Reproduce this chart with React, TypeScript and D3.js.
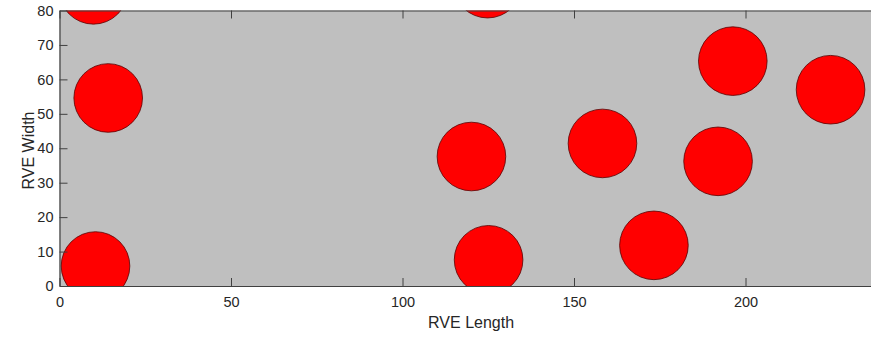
import React, { useEffect, useRef } from 'react';
import * as d3 from 'd3';

// fibre centres (RVE units)
const centerX = [9.9, 14.2, 10.5, 124.8, 120.1, 125.1, 158.3, 173.3, 192.0, 196.3, 224.8];
const centerY = [86.0, 54.6, 5.8, 87.8, 37.6, 7.6, 41.4, 11.8, 36.2, 65.3, 57.0];
const radius = [10, 10, 10, 10, 10, 10, 10, 10, 10, 10, 10];

const xTicks = [0, 50, 100, 150, 200];
const yTicks = [0, 10, 20, 30, 40, 50, 60, 70, 80];

const xLabel = 'RVE Length';
const yLabel = 'RVE Width';

const App: React.FC = () => {
  const width = 871;
  const height = 337;
  const margin = { top: 10.5, left: 59.5, bottom: 51 };
  const innerH = height - margin.top - margin.bottom;
  const innerW = 240 * 3.43;

  const svgRef = useRef<SVGSVGElement>(null);

  useEffect(() => {
    const svg = d3.select(svgRef.current);
    svg.selectAll('*').remove();

    const x = d3.scaleLinear().domain([0, 240]).range([0, innerW]);
    const y = d3.scaleLinear().domain([0, 80]).range([innerH, 0]);

    const g = svg.append('g').attr('transform', `translate(${margin.left},${margin.top})`);

    svg.append('defs')
      .append('clipPath')
      .attr('id', 'plot-clip')
      .append('rect')
      .attr('width', innerW)
      .attr('height', innerH);

    g.append('rect')
      .attr('width', innerW)
      .attr('height', innerH)
      .attr('fill', '#bfbfbf');

    const data = centerX.map((cx, i) => ({ cx, cy: centerY[i], r: radius[i] }));

    g.append('g')
      .attr('clip-path', 'url(#plot-clip)')
      .selectAll('circle')
      .data(data)
      .join('circle')
      .attr('cx', d => x(d.cx))
      .attr('cy', d => y(d.cy))
      .attr('r', d => x(d.r) - x(0))
      .attr('fill', '#ff0000')
      .attr('stroke', '#5a0000')
      .attr('stroke-width', 0.8);

    const font = '"Liberation Sans", Arial, Helvetica, sans-serif';

    const styleAxis = (sel: d3.Selection<SVGGElement, unknown, null, undefined>) => {
      sel.select('.domain').attr('stroke', '#404040').attr('stroke-width', 1.2);
      sel.selectAll('.tick line').attr('stroke', '#404040');
      sel.selectAll('.tick text')
        .attr('fill', '#262626')
        .style('font-family', font)
        .style('font-size', '14.5px');
    };

    g.append('g')
      .attr('transform', `translate(0,${innerH})`)
      .call(d3.axisBottom(x).tickValues(xTicks).tickSize(-8).tickSizeOuter(0).tickPadding(10.5))
      .call(styleAxis);

    g.append('g')
      .call(d3.axisTop(x).tickValues(xTicks).tickSize(-8).tickSizeOuter(0).tickFormat(() => ''))
      .call(styleAxis);

    g.append('g')
      .call(d3.axisLeft(y).tickValues(yTicks).tickSize(-8).tickSizeOuter(0).tickPadding(6))
      .call(styleAxis);

    g.append('text')
      .attr('x', x(120))
      .attr('y', innerH + 42)
      .attr('text-anchor', 'middle')
      .attr('fill', '#262626')
      .style('font-family', font)
      .style('font-size', '16px')
      .text(xLabel);

    g.append('text')
      .attr('transform', `translate(${33.5 - margin.left},${150.5 - margin.top}) rotate(-90)`)
      .attr('text-anchor', 'middle')
      .attr('fill', '#262626')
      .style('font-family', font)
      .style('font-size', '16px')
      .text(yLabel);
  }, []);

  return (
    <div style={{ position: 'absolute', left: 0, top: 0 }}>
      <svg ref={svgRef} width={width} height={height} style={{ display: 'block', background: '#fff' }}></svg>
    </div>
  );
};

export default App;
